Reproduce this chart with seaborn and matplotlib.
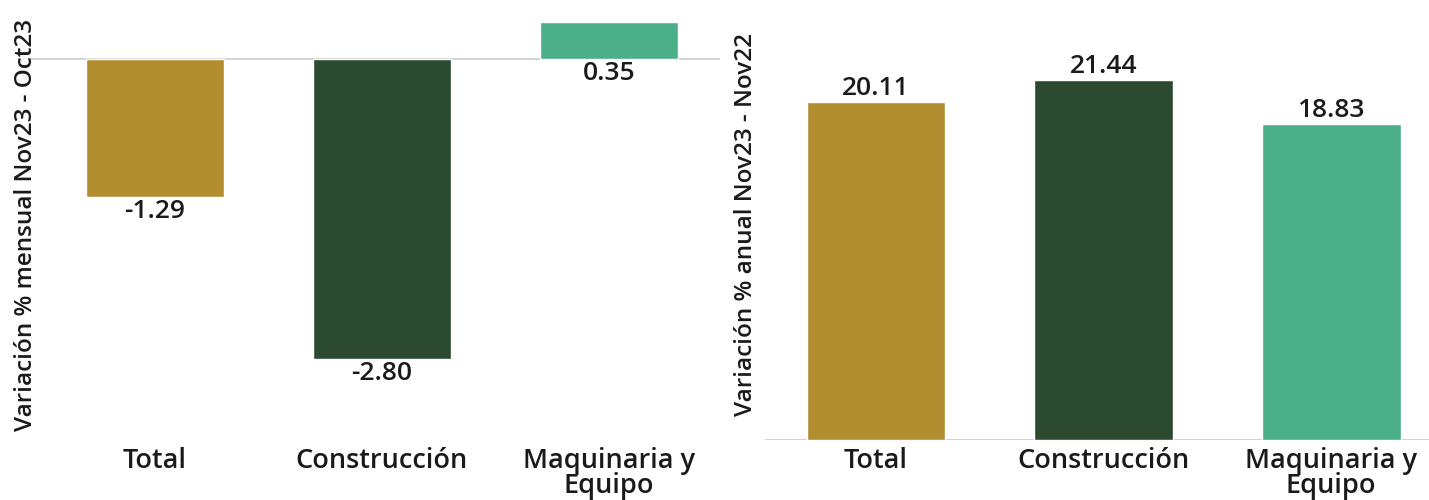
import numpy as np
import pandas as pd
import matplotlib
matplotlib.use("Agg")
import matplotlib.pyplot as plt
import seaborn as sns

# %% DATA
categories = ["Total", "Construcción", "Maquinaria y\nEquipo"]
mensual = [-1.29, -2.80, 0.35]
anual = [20.11, 21.44, 18.83]
colors = ["#b28e30", "#2c4a2f", "#4baf8a"]

ylabel_mensual = "Variación % mensual Nov23 - Oct23"
ylabel_anual = "Variación % anual Nov23 - Nov22"

# %% STYLE
sns.set_style("white")
plt.rcParams["font.family"] = ["Open Sans", "DejaVu Sans"]
plt.rcParams["font.weight"] = "semibold"
txt = "#1a1a1a"

df_m = pd.DataFrame({"cat": categories, "val": mensual})
df_a = pd.DataFrame({"cat": categories, "val": anual})

fig = plt.figure(figsize=(14.29, 5), dpi=100)
ax1 = fig.add_axes([0.021, 0.12, 0.483, 0.86])
ax2 = fig.add_axes([0.535, 0.12, 0.465, 0.86])

# %% LEFT: mensual
sns.barplot(data=df_m, x="cat", y="val", hue="cat", palette=colors,
            width=0.61, legend=False, ax=ax1, saturation=1)
ax1.axhline(0, color="#d4d4d4", lw=1.5, zorder=0)
ax1.set_xlim(-0.55, 2.49)
ax1.set_ylim(-3.56, 0.46)
for i, v in enumerate(mensual):
    y = v if v < 0 else 0
    ax1.text(i, y - 0.02, f"{v:.2f}", ha="center", va="top",
             fontsize=19, color=txt)
ax1.set_ylabel(ylabel_mensual, fontsize=17.5, color=txt, labelpad=-6,
               fontweight="semibold")

# %% RIGHT: anual
sns.barplot(data=df_a, x="cat", y="val", hue="cat", palette=colors,
            width=0.61, legend=False, ax=ax2, saturation=1)
ax2.axhline(0, color="#d4d4d4", lw=1.5, zorder=0)
ax2.set_xlim(-0.49, 2.43)
ax2.set_ylim(0, 25.6)
for i, v in enumerate(anual):
    ax2.text(i, v + 0.05, f"{v:.2f}", ha="center", va="bottom",
             fontsize=19, color=txt)
ax2.set_ylabel(ylabel_anual, fontsize=17.5, color=txt, labelpad=5,
               fontweight="semibold")

for ax in (ax1, ax2):
    ax.set_xlabel("")
    ax.set_yticks([])
    ax.tick_params(axis="x", length=0, pad=5, labelsize=19.5, labelcolor=txt)
    for lbl in ax.get_xticklabels():
        lbl.set_linespacing(0.88)
    sns.despine(ax=ax, left=True, bottom=True)

fig.savefig("out.png", dpi=100)
